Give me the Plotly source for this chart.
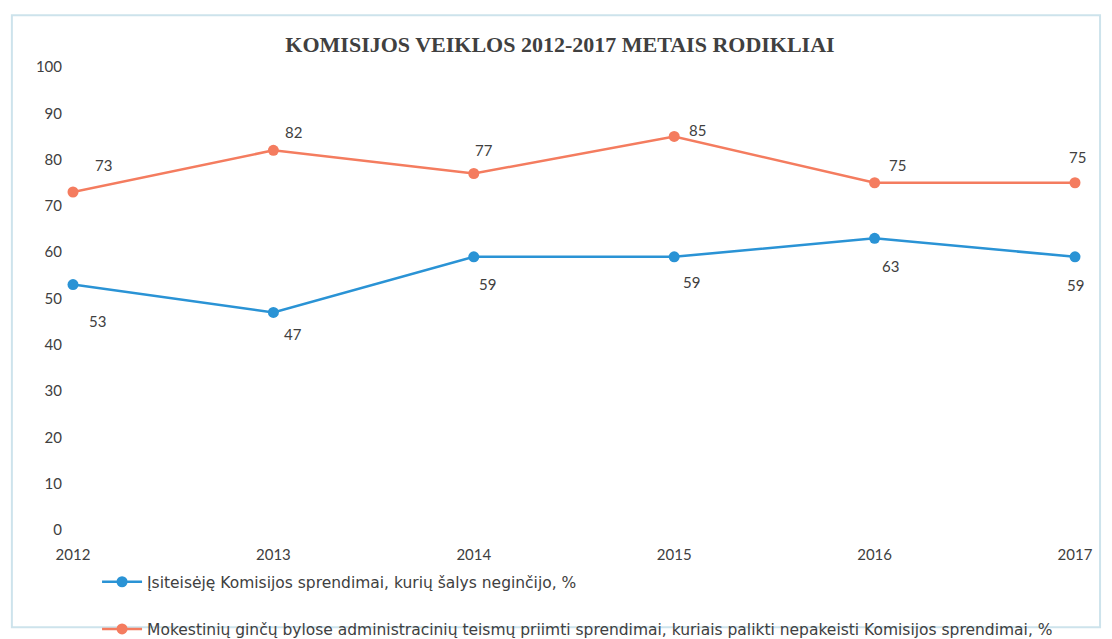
import plotly.graph_objects as go

years = ["2012", "2013", "2014", "2015", "2016", "2017"]
blue_vals = [53, 47, 59, 59, 63, 59]
orange_vals = [73, 82, 77, 85, 75, 75]
blue_name = "Įsiteisėję Komisijos sprendimai, kurių šalys neginčijo, %"
orange_name = "Mokestinių ginčų bylose administracinių teismų priimti sprendimai, kuriais palikti nepakeisti Komisijos sprendimai, %"
title_text = "<b>KOMISIJOS VEIKLOS 2012-2017 METAIS RODIKLIAI</b>"

BLUE = "#2a93d5"
ORANGE = "#f47c5f"
TXT = "#404040"

# label offsets in pixels (style only)
blue_off = [(24, 36), (20, 22), (14, 27), (17, 25), (16, 28), (0, 28)]
orange_off = [(30, -27), (20, -18), (10, -23), (23, -6), (23, -18), (2, -26)]

fig = go.Figure()
fig.add_trace(go.Scatter(x=years, y=blue_vals, name=blue_name, mode="lines+markers",
                         line=dict(color=BLUE, width=2.5), marker=dict(size=11, color=BLUE),
                         legendgroup="a", cliponaxis=False))
fig.add_trace(go.Scatter(x=years, y=orange_vals, name=orange_name, mode="lines+markers",
                         line=dict(color=ORANGE, width=2.5), marker=dict(size=11, color=ORANGE),
                         legendgroup="b", cliponaxis=False))

for i, v in enumerate(blue_vals):
    fig.add_annotation(x=i, y=v, text=str(v), showarrow=False,
                       xshift=blue_off[i][0], yshift=-blue_off[i][1],
                       font=dict(family="Lato", size=15, color=TXT))
for i, v in enumerate(orange_vals):
    fig.add_annotation(x=i, y=v, text=str(v), showarrow=False,
                       xshift=orange_off[i][0], yshift=-orange_off[i][1],
                       font=dict(family="Lato", size=15, color=TXT))

fig.add_shape(type="rect", xref="paper", yref="paper", x0=-0.061, x1=1.025, y0=-0.21, y1=1.112,
              line=dict(color="#cde3ec", width=2), fillcolor="rgba(0,0,0,0)", layer="below")

fig.update_layout(
    width=1104, height=631,
    margin=dict(l=65, r=37, t=59, b=109, autoexpand=False),
    paper_bgcolor="white", plot_bgcolor="white",
    title=dict(text=title_text, x=0.5, xanchor="center", y=0.943, yanchor="middle",
               font=dict(family="Liberation Serif", size=22, color=TXT)),
    xaxis=dict(type="category", range=[0, 5], showgrid=False, showline=False, zeroline=False,
               ticks="", ticklabelstandoff=14, tickfont=dict(family="Lato", size=15, color=TXT)),
    yaxis=dict(range=[0, 100], dtick=10, showgrid=False, showline=False, zeroline=False,
               ticks="", ticklabelstandoff=10, tickfont=dict(family="Lato", size=15, color=TXT)),
    showlegend=True,
    legend=dict(x=0.024, y=-0.076, xanchor="left", yanchor="top", orientation="v",
                tracegroupgap=24, itemwidth=40,
                font=dict(family="DejaVu Sans", size=15.5, color=TXT), bgcolor="rgba(0,0,0,0)"),
)

fig.write_html("out.html")
